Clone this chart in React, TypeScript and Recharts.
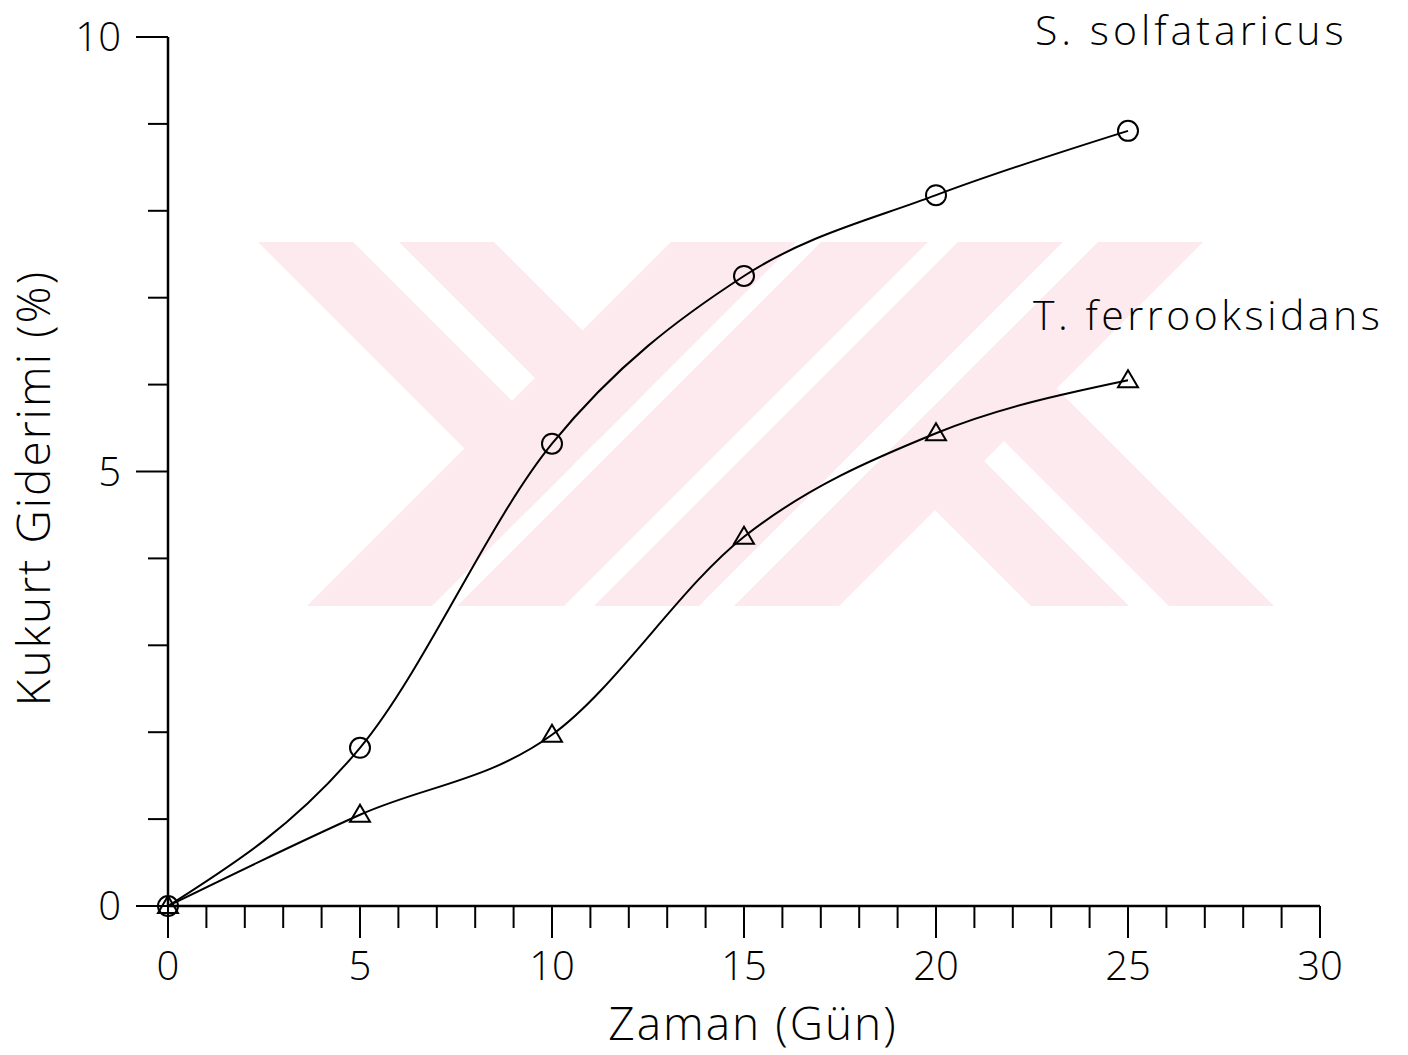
import { Line, LineChart, XAxis, YAxis } from "recharts";

// sampling days and % sulphur removal
const DAYS = [0, 5, 10, 15, 20, 25];
const S_SOLFATARICUS = [0, 1.82, 5.32, 7.25, 8.18, 8.92];
const T_FERROOKSIDANS = [0, 1.05, 1.97, 4.25, 5.44, 6.05];

const X_TICKS = [0, 1, 2, 3, 4, 5, 6, 7, 8, 9, 10, 11, 12, 13, 14, 15, 16, 17, 18, 19, 20, 21, 22, 23, 24, 25, 26, 27, 28, 29, 30];
const Y_TICKS = [0, 1, 2, 3, 4, 5, 6, 7, 8, 9, 10];

const FONT = "'Open Sans', 'DejaVu Sans', sans-serif";

const data = DAYS.map((d, i) => ({ day: d, s: S_SOLFATARICUS[i], t: T_FERROOKSIDANS[i] }));

// faint scanned-in watermark (decoration, not data): 45deg bands
const WM_TOP = 242;
const WM_BOTTOM = 606;
const WM_SLASH = [[913, 1038], [1063, 1170], [1200, 1305], [1340, 1445]];
const WM_BACK_LEFT = [[16, 111], [157, 252]];
const WM_BACK_RIGHT = [[425, 523], [563, 668]];
const WM_LEFT_LIMIT = 1038;
const WM_RIGHT_LIMIT = 1340;

const pts = (p: number[][]) => p.map(([x, y]) => `${x},${y}`).join(" ");

function Watermark() {
  const polys: string[] = [];
  WM_SLASH.forEach(([a, b]) =>
    polys.push(pts([[a - WM_TOP, WM_TOP], [b - WM_TOP, WM_TOP], [b - WM_BOTTOM, WM_BOTTOM], [a - WM_BOTTOM, WM_BOTTOM]]))
  );
  WM_BACK_LEFT.forEach(([c, d]) => {
    const L = WM_LEFT_LIMIT;
    polys.push(pts([[c + WM_TOP, WM_TOP], [d + WM_TOP, WM_TOP], [(L + d) / 2, (L - d) / 2], [(L + c) / 2, (L - c) / 2]]));
  });
  WM_BACK_RIGHT.forEach(([c, d]) => {
    const R = WM_RIGHT_LIMIT;
    polys.push(pts([[(R + c) / 2, (R - c) / 2], [(R + d) / 2, (R - d) / 2], [d + WM_BOTTOM, WM_BOTTOM], [c + WM_BOTTOM, WM_BOTTOM]]));
  });
  return (
    <svg width={1408} height={1055} style={{ position: "absolute", left: 0, top: 0 }}>
      {polys.map((p, i) => (
        <polygon key={i} points={p} fill="#fdeaee" />
      ))}
    </svg>
  );
}

function XTick({ x, y, payload }: any) {
  const major = payload.value % 5 === 0;
  return (
    <g>
      <line x1={x} y1={y} x2={x} y2={y + (major ? 32 : 22)} stroke="#000" strokeWidth={2} />
      {major && (
        <text x={x} y={y + 74} textAnchor="middle" fontSize={40} fontFamily={FONT} fontWeight={300} fill="#000">
          {payload.value}
        </text>
      )}
    </g>
  );
}

function YTick({ x, y, payload }: any) {
  const major = payload.value % 5 === 0;
  return (
    <g>
      <line x1={x} y1={y} x2={x - (major ? 32 : 20)} y2={y} stroke="#000" strokeWidth={2} />
      {major && (
        <text x={x - 47} y={y + 14} textAnchor="end" fontSize={40} fontFamily={FONT} fontWeight={300} fill="#000">
          {payload.value}
        </text>
      )}
    </g>
  );
}

function CircleDot({ cx, cy }: any) {
  return <circle cx={cx} cy={cy} r={10} fill="none" stroke="#000" strokeWidth={2} />;
}

function TriangleDot({ cx, cy }: any) {
  return (
    <polygon
      points={`${cx},${cy - 10} ${cx + 10},${cy + 7} ${cx - 10},${cy + 7}`}
      fill="none"
      stroke="#000"
      strokeWidth={2}
      strokeLinejoin="miter"
    />
  );
}

export default function App() {
  return (
    <div style={{ position: "absolute", left: 0, top: 0, width: 1408, height: 1055, background: "#fff" }}>
      <Watermark />
      <div style={{ position: "absolute", left: 0, top: 0 }}>
        <LineChart width={1408} height={1055} data={data} margin={{ top: 37, right: 88, bottom: 89, left: 108 }}>
          <XAxis
            dataKey="day"
            type="number"
            domain={[0, 30]}
            ticks={X_TICKS}
            interval={0}
            tickSize={0}
            tickMargin={0}
            tickLine={false}
            tick={<XTick />}
            height={60}
            axisLine={{ stroke: "#000", strokeWidth: 2.5 }}
          />
          <YAxis
            type="number"
            domain={[0, 10]}
            ticks={Y_TICKS}
            interval={0}
            tickSize={0}
            tickMargin={0}
            tickLine={false}
            tick={<YTick />}
            width={60}
            axisLine={{ stroke: "#000", strokeWidth: 2.5 }}
          />
          <Line
            dataKey="s"
            type="monotone"
            stroke="#000"
            strokeWidth={2}
            dot={<CircleDot />}
            activeDot={false}
            isAnimationActive={false}
          />
          <Line
            dataKey="t"
            type="monotone"
            stroke="#000"
            strokeWidth={2}
            dot={<TriangleDot />}
            activeDot={false}
            isAnimationActive={false}
          />
          <text x={1035} y={45} fontSize={41} fontFamily={FONT} fontWeight={300} fill="#000" letterSpacing={4}>
            S.  solfataricus
          </text>
          <text x={1033} y={330} fontSize={41} fontFamily={FONT} fontWeight={300} fill="#000" letterSpacing={3.5}>
            T.  ferrooksidans
          </text>
          <text x={753} y={1040} fontSize={46} fontFamily={FONT} fontWeight={300} fill="#000" textAnchor="middle" letterSpacing={2}>
            Zaman  (Gün)
          </text>
          <text
            x={50}
            y={488}
            fontSize={46}
            fontFamily={FONT}
            fontWeight={300}
            fill="#000"
            textAnchor="middle"
            letterSpacing={2}
            transform="rotate(-90 50 488)"
          >
            Kukurt  Giderimi  (%)
          </text>
        </LineChart>
      </div>
    </div>
  );
}
